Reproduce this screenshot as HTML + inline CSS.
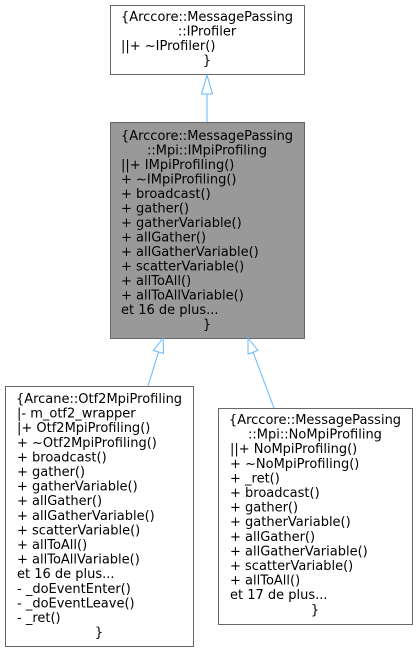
<!DOCTYPE html>
<html><head><meta charset="utf-8"><style>
html,body{margin:0;padding:0;background:#fff;width:418px;height:652px;overflow:hidden}
text{font-family:"DejaVu Sans","Liberation Sans",sans-serif;font-size:13px;fill:#000}
</style></head><body>
<svg width="418" height="652" viewBox="0 0 418 652" xmlns="http://www.w3.org/2000/svg">
<rect x="110.5" y="5.5" width="194" height="69" fill="#fff" stroke="#666"/>
<text x="207" y="21" text-anchor="middle">{Arccore::MessagePassing</text>
<text x="207" y="35.5" text-anchor="middle">::IProfiler</text>
<text x="121" y="50">||+ ~IProfiler()</text>
<text x="207" y="64.5" text-anchor="middle">}</text>

<rect x="110.5" y="122.5" width="194" height="216" fill="#999" stroke="#666"/>
<text x="207" y="140" text-anchor="middle">{Arccore::MessagePassing</text>
<text x="207" y="154.5" text-anchor="middle">::Mpi::IMpiProfiling</text>
<g>
<text x="121" y="169">||+ IMpiProfiling()</text>
<text x="121" y="183.5">+ ~IMpiProfiling()</text>
<text x="121" y="198">+ broadcast()</text>
<text x="121" y="212.5">+ gather()</text>
<text x="121" y="227">+ gatherVariable()</text>
<text x="121" y="241.5">+ allGather()</text>
<text x="121" y="256">+ allGatherVariable()</text>
<text x="121" y="270.5">+ scatterVariable()</text>
<text x="121" y="285">+ allToAll()</text>
<text x="121" y="299.5">+ allToAllVariable()</text>
<text x="121" y="314">et 16 de plus...</text>
</g>
<text x="207" y="328.5" text-anchor="middle">}</text>

<rect x="5.5" y="386.5" width="188" height="260" fill="#fff" stroke="#666"/>
<text x="99" y="403" text-anchor="middle">{Arcane::Otf2MpiProfiling</text>
<text x="17" y="417.6">|- m_otf2_wrapper</text>
<text x="17" y="432.2">|+ Otf2MpiProfiling()</text>
<text x="17" y="446.8">+ ~Otf2MpiProfiling()</text>
<text x="17" y="461.4">+ broadcast()</text>
<text x="17" y="476">+ gather()</text>
<text x="17" y="490.6">+ gatherVariable()</text>
<text x="17" y="505.2">+ allGather()</text>
<text x="17" y="519.8">+ allGatherVariable()</text>
<text x="17" y="534.4">+ scatterVariable()</text>
<text x="17" y="549">+ allToAll()</text>
<text x="17" y="563.6">+ allToAllVariable()</text>
<text x="17" y="578.2">et 16 de plus...</text>
<text x="17" y="592.8">- _doEventEnter()</text>
<text x="17" y="607.4">- _doEventLeave()</text>
<text x="17" y="622">- _ret()</text>
<text x="99" y="636.6" text-anchor="middle">}</text>

<rect x="218.5" y="408.5" width="194" height="216" fill="#fff" stroke="#666"/>
<text x="315" y="424" text-anchor="middle">{Arccore::MessagePassing</text>
<text x="315" y="438.6" text-anchor="middle">::Mpi::NoMpiProfiling</text>
<text x="230" y="453.2">||+ NoMpiProfiling()</text>
<text x="230" y="467.8">+ ~NoMpiProfiling()</text>
<text x="230" y="482.4">+ _ret()</text>
<text x="230" y="497">+ broadcast()</text>
<text x="230" y="511.6">+ gather()</text>
<text x="230" y="526.2">+ gatherVariable()</text>
<text x="230" y="540.8">+ allGather()</text>
<text x="230" y="555.4">+ allGatherVariable()</text>
<text x="230" y="570">+ scatterVariable()</text>
<text x="230" y="584.6">+ allToAll()</text>
<text x="230" y="599.2">et 17 de plus...</text>
<text x="315" y="613.8" text-anchor="middle">}</text>

<g stroke="#63b8ff" fill="#fff" stroke-width="1">
<line x1="207" y1="94" x2="207" y2="122"/>
<polygon points="207,75 201.5,94 212.5,94"/>
<line x1="148" y1="386" x2="158.5" y2="352"/>
<polygon points="163,338 153.5,350.5 163.5,353.5"/>
<line x1="274" y1="408" x2="253" y2="352"/>
<polygon points="248,338 248,354 258,350.5"/>
</g>
</svg>
</body></html>
